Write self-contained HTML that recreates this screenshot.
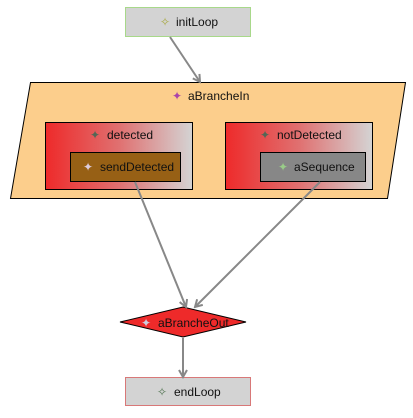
<!DOCTYPE html>
<html><head><style>
body{margin:0;background:#fff;width:413px;height:413px;overflow:hidden;font-family:"Liberation Sans",sans-serif;}
</style></head><body>
<svg width="413" height="413" xmlns="http://www.w3.org/2000/svg" font-family="Liberation Sans, sans-serif" font-size="12">
<defs>
<linearGradient id="g" x1="0" x2="1" y1="0" y2="0"><stop offset="0" stop-color="#ee2a2a"/><stop offset="0.5" stop-color="#e07070"/><stop offset="1" stop-color="#d4d4d4"/></linearGradient>
<marker id="a" markerWidth="10" markerHeight="10" refX="8" refY="5" orient="auto" markerUnits="userSpaceOnUse"><path d="M1,1 L8,5 L1,9" fill="none" stroke="#888" stroke-width="2"/></marker>
</defs>
<rect x="125.5" y="7.5" width="125" height="29" fill="#d3d3d3" stroke="#a8d88a"/>
<text x="176" y="26" fill="#111">initLoop</text>
<text x="160" y="26" font-size="12" fill="#aa4">✧</text>
<polygon points="30.5,82.5 405.5,82.5 387.5,198.5 10.5,198.5" fill="#fcce8c" stroke="#000"/>
<text x="188" y="100" fill="#111">aBrancheIn</text>
<text x="172" y="100" font-size="12" fill="#a4a">✦</text>
<rect x="45.5" y="122.5" width="147" height="67" fill="url(#g)" stroke="#000"/>
<text x="107" y="139" fill="#111">detected</text>
<text x="90" y="139" font-size="12" fill="#565">✦</text>
<rect x="70.5" y="152.5" width="110" height="29" fill="#976015" stroke="#000"/>
<text x="100" y="171" fill="#111">sendDetected</text>
<text x="83" y="171" font-size="12" fill="#dcd">✦</text>
<rect x="225.5" y="122.5" width="147" height="67" fill="url(#g)" stroke="#000"/>
<text x="277" y="139" fill="#111">notDetected</text>
<text x="260" y="139" font-size="12" fill="#565">✦</text>
<rect x="260.5" y="152.5" width="105" height="29" fill="#878787" stroke="#000"/>
<text x="294" y="171" fill="#111">aSequence</text>
<text x="278" y="171" font-size="12" fill="#9c8">✦</text>
<polygon points="120,322 183,307 246,322 183,337" fill="#ee2a2a" stroke="#000"/>
<text x="158" y="327" fill="#111">aBrancheOut</text>
<text x="141" y="327" font-size="12" fill="#ccd">✦</text>
<rect x="125.5" y="377.5" width="125" height="28" fill="#d3d3d3" stroke="#d87878"/>
<text x="174" y="396" fill="#111">endLoop</text>
<text x="157" y="396" font-size="12" fill="#575">✧</text>
<g stroke="#888" stroke-width="2" fill="none" marker-end="url(#a)">
<line x1="170" y1="37" x2="200" y2="82"/>
<line x1="135" y1="182" x2="186" y2="307"/>
<line x1="320" y1="182" x2="195" y2="307"/>
<line x1="183" y1="338" x2="183" y2="377"/>
</g>
</svg>
</body></html>
